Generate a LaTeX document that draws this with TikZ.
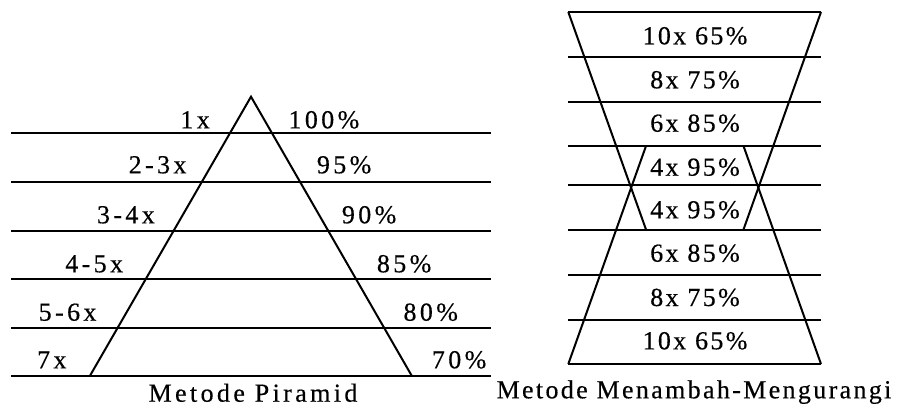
\documentclass[tikz,border=0pt]{standalone}
\usepackage{fontspec}
\setmainfont{Liberation Serif}[LetterSpace=13, FakeBold=0.4]
\begin{document}
\begin{tikzpicture}[x=1pt, y=-1pt,
    bar/.style={line width=2pt},
    txt/.style={inner sep=0pt, font=\fontsize{26}{31}\selectfont}]
    \useasboundingbox (0,0) rectangle (899,407);

    % Pyramid: rungs and triangle
    \foreach \y in {133.3, 182.3, 231, 279.3, 327.7, 375.7} {
        \draw[bar] (11,\y) -- (491,\y);
    }
    \coordinate (apex) at (251,96.7);
    \coordinate (baseL) at (90,375.7);
    \coordinate (baseR) at (411.7,375.7);
    \draw[bar, line join=miter] (baseL) -- (apex) -- (baseR);

    % Repetitions left of the triangle, loads right of it
    \foreach \xr/\xl/\y/\reps/\load [count=\i] in {
        210/288.3/128.3/1x/100\%,
        186.7/316.7/173.3/2-3x/95\%,
        155/341.7/223.3/3-4x/90\%,
        123.3/376.7/272.3/4-5x/85\%,
        96.7/403.3/320.7/5-6x/80\%,
        66.7/431.7/368.3/7x/70\%
    } {
        \node[txt, anchor=base east] (rep\i) at (\xr,\y) {\reps};
        \node[txt, anchor=base west] (load\i) at (\xl,\y) {\load};
    }
    \node[txt, anchor=base] (capL) at (253,401.7) {Metode Piramid};

    % Hourglass: rungs and crossing sides
    \foreach \y in {12, 56.7, 101.5, 146, 185, 229.5, 275, 320, 364} {
        \draw[bar] (568.3,\y) -- (821,\y);
    }
    \coordinate (topL) at (568.3,12);
    \coordinate (topR) at (821,12);
    \coordinate (botL) at (568.3,364);
    \coordinate (botR) at (821,364);
    \draw[bar] (topL) -- (646,229.5);
    \draw[bar] (botL) -- (646,146);
    \draw[bar] (topR) -- (743.5,229.5);
    \draw[bar] (botR) -- (743.5,146);

    % Sets and loads, one per row
    \foreach \y/\t [count=\i] in {
        44.3/10x 65\%, 88.3/8x 75\%, 131.7/6x 85\%, 175.7/4x 95\%,
        218.3/4x 95\%, 261.7/6x 85\%, 306/8x 75\%, 349.3/10x 65\%
    } {
        \node[txt, anchor=base] (row\i) at (695,\y) {\addfontfeature{LetterSpace=9}\t};
    }
    \node[txt, anchor=base] (capR) at (694,398.3)
        {\addfontfeature{LetterSpace=9}Metode Menambah-Mengurangi};
\end{tikzpicture}
\end{document}
